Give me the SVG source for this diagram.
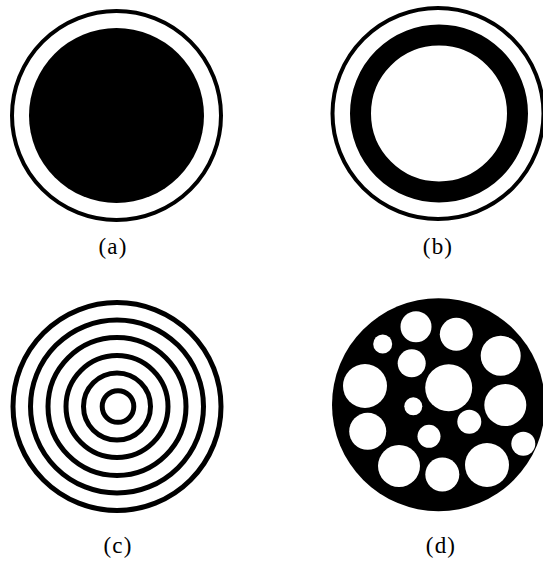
<svg xmlns="http://www.w3.org/2000/svg" width="543" height="561" viewBox="0 0 543 561">
<style>
.ring{fill:none;stroke:#000}
.hole{fill:#fff}
.lbl{font-family:"Liberation Serif","Times New Roman",serif;font-size:23px;fill:#000;text-anchor:middle;letter-spacing:1.2px}
</style>
<rect width="543" height="561" fill="#fff"/>
<g id="a">
<circle class="ring" cx="116.5" cy="115.5" r="104.5" stroke-width="4"/>
<circle cx="116.5" cy="115.5" r="87.5" fill="#000"/>
<text class="lbl" x="113" y="254">(a)</text>
</g>
<g id="b">
<circle class="ring" cx="438" cy="113.5" r="105.5" stroke-width="4"/>
<circle class="ring" cx="439" cy="113.5" r="78.5" stroke-width="21"/>
<text class="lbl" x="438" y="254">(b)</text>
</g>
<g id="c">
<circle class="ring" cx="117" cy="406.5" r="104" stroke-width="5"/>
<circle class="ring" cx="117" cy="406.5" r="86.5" stroke-width="5"/>
<circle class="ring" cx="117" cy="406.5" r="69" stroke-width="5"/>
<circle class="ring" cx="117" cy="406.5" r="51" stroke-width="5"/>
<circle class="ring" cx="117" cy="406.5" r="33.5" stroke-width="5"/>
<circle class="ring" cx="118" cy="406.5" r="15.8" stroke-width="5"/>
<text class="lbl" x="118" y="553">(c)</text>
</g>
<g id="d">
<circle cx="438.5" cy="404.7" r="106.5" fill="#000"/>
<circle class="hole" cx="416" cy="326.7" r="15.5"/>
<circle class="hole" cx="456.3" cy="334.3" r="16.5"/>
<circle class="hole" cx="382.7" cy="344" r="9.5"/>
<circle class="hole" cx="500.7" cy="355.7" r="20"/>
<circle class="hole" cx="411.7" cy="363.3" r="14"/>
<circle class="hole" cx="365" cy="386" r="22"/>
<circle class="hole" cx="448.7" cy="387.7" r="23.5"/>
<circle class="hole" cx="505.3" cy="405" r="21"/>
<circle class="hole" cx="413.3" cy="406.3" r="9"/>
<circle class="hole" cx="367.7" cy="431.3" r="18.5"/>
<circle class="hole" cx="469.3" cy="421.7" r="12"/>
<circle class="hole" cx="429" cy="436.3" r="11.5"/>
<circle class="hole" cx="523.3" cy="443.7" r="12"/>
<circle class="hole" cx="399" cy="466" r="21"/>
<circle class="hole" cx="442.3" cy="474.5" r="17"/>
<circle class="hole" cx="487" cy="465" r="22"/>
<text class="lbl" x="441" y="553">(d)</text>
</g>
</svg>
